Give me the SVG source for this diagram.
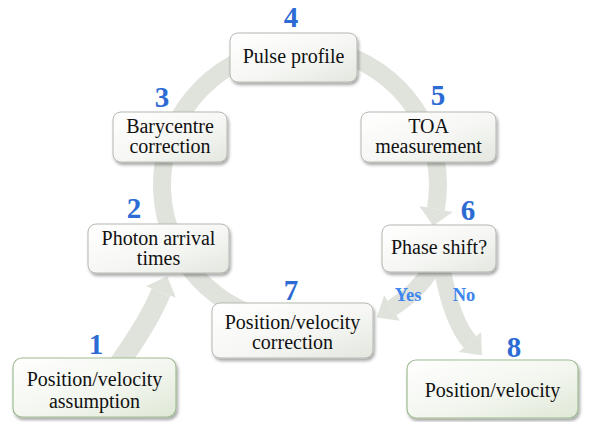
<svg xmlns="http://www.w3.org/2000/svg" width="590" height="422" viewBox="0 0 590 422">
<defs>
<linearGradient id="gBox" x1="0" y1="0" x2="1" y2="1">
<stop offset="0" stop-color="#ffffff"/>
<stop offset="0.55" stop-color="#f6f7f4"/>
<stop offset="1" stop-color="#e3e7df"/>
</linearGradient>
<linearGradient id="gGreen" x1="0" y1="0" x2="1" y2="1">
<stop offset="0" stop-color="#ffffff"/>
<stop offset="0.55" stop-color="#f3f6ef"/>
<stop offset="1" stop-color="#dfe8d6"/>
</linearGradient>
<filter id="sh" x="-20%" y="-20%" width="140%" height="150%">
<feDropShadow dx="1.5" dy="2.5" stdDeviation="1.8" flood-color="#000" flood-opacity="0.35"/>
</filter>
</defs>
<style>
.box{fill:url(#gBox);stroke:#b4b8b0;stroke-width:1;filter:url(#sh)}
.gbox{fill:url(#gGreen);stroke:#9fbb92;stroke-width:1.2;filter:url(#sh)}
.t{font-family:"Liberation Serif","DejaVu Serif",serif;font-size:20px;fill:#111;text-anchor:middle}
.n{font-family:"Liberation Serif","DejaVu Serif",serif;font-size:29px;font-weight:bold;fill:#2d6bd4;text-anchor:middle}
.yn{font-family:"Liberation Serif","DejaVu Serif",serif;font-size:18.5px;font-weight:bold;fill:#3e86ee;text-anchor:middle}
.shaft{fill:none;stroke:#dfe3dc;stroke-width:18}
.head{fill:#dfe3dc}
</style>
<g id="connectors">
<path class="shaft" d="M248.3,313 A138,138 0 1 1 435.9,209"/>
<polygon class="head" points="452.7,211.9 433.1,225.7 419.3,206.1"/>
<path class="shaft" d="M118,365 Q150,320 161,292" style="stroke-width:20"/>
<polygon class="head" points="175.9,297.8 167.2,276.2 146.1,286.2"/>
<path class="shaft" d="M432,268 Q418,292 392,308" style="stroke-width:17"/>
<polygon class="head" points="399.8,320.8 376.7,317.4 384.2,295.2"/>
<path class="shaft" d="M442,268 Q452,322 470,342" style="stroke-width:17"/>
<polygon class="head" points="458.9,352 482,355.3 481.1,332"/>
<text class="yn" x="408" y="301">Yes</text>
<text class="yn" x="464" y="301">No</text>
</g>
<g id="node4">
<rect class="box" x="230" y="33" width="127" height="49" rx="8"/>
<text class="t" x="293.5" y="63">Pulse profile</text>
<text class="n" x="291" y="27">4</text>
</g>
<g id="node3">
<rect class="box" x="113" y="112" width="114" height="50" rx="8"/>
<text class="t" x="170" y="133">Barycentre</text>
<text class="t" x="170" y="153">correction</text>
<text class="n" x="162" y="107">3</text>
</g>
<g id="node5">
<rect class="box" x="361" y="112" width="135" height="50" rx="8"/>
<text class="t" x="428.5" y="133">TOA</text>
<text class="t" x="428.5" y="153">measurement</text>
<text class="n" x="438" y="105">5</text>
</g>
<g id="node2">
<rect class="box" x="88" y="224" width="141" height="49" rx="8"/>
<text class="t" x="158.5" y="245">Photon arrival</text>
<text class="t" x="158.5" y="265">times</text>
<text class="n" x="134" y="218">2</text>
</g>
<g id="node6">
<rect class="box" x="382" y="225" width="114" height="47" rx="8"/>
<text class="t" x="439" y="254">Phase shift?</text>
<text class="n" x="468" y="220">6</text>
</g>
<g id="node7">
<rect class="box" x="212" y="303" width="161" height="55" rx="8"/>
<text class="t" x="292.5" y="329">Position/velocity</text>
<text class="t" x="292.5" y="349">correction</text>
<text class="n" x="291" y="300">7</text>
</g>
<g id="node1">
<rect class="gbox" x="13" y="358" width="163" height="59" rx="9"/>
<text class="t" x="94.5" y="386">Position/velocity</text>
<text class="t" x="94.5" y="408">assumption</text>
<text class="n" x="96" y="354">1</text>
</g>
<g id="node8">
<rect class="gbox" x="407" y="360" width="171" height="58" rx="9"/>
<text class="t" x="492.5" y="397">Position/velocity</text>
<text class="n" x="514" y="357">8</text>
</g>
</svg>
